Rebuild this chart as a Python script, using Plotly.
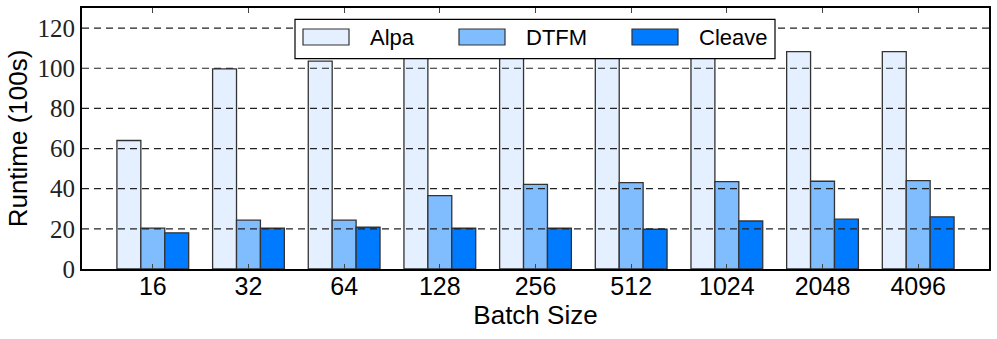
import plotly.graph_objects as go

# Batch sizes and runtimes (in units of 100 s)
batch_sizes = ["16", "32", "64", "128", "256", "512", "1024", "2048", "4096"]
alpa = [64, 99.7, 103.5, 106, 107, 107.5, 108, 108.3, 108.3]
dtfm = [20.4, 24.3, 24.3, 36.5, 42.2, 43, 43.5, 43.7, 44]
cleave = [18, 20.3, 20.8, 20.3, 20.3, 19.8, 23.9, 24.8, 26]
y_ticks = [0, 20, 40, 60, 80, 100, 120]

names = ["Alpa", "DTFM", "Cleave"]
colors = ["#E4F0FF", "#80BDFF", "#007AFF"]
values = [alpa, dtfm, cleave]

W, H = 997, 339
L, R, T, B = 82, 8, 8, 70
pw, ph = W - L - R, H - T - B


def px(x):
    return (x - L) / pw


def py(y):
    return 1 - (y - T) / ph


fig = go.Figure()
for name, vals, color in zip(names, values, colors):
    fig.add_trace(go.Bar(
        x=batch_sizes, y=vals, name=name,
        marker=dict(color=color, line=dict(color="#333333", width=1.3)),
        width=0.25, showlegend=False,
    ))

# dashed grid drawn over the bars, as in the matplotlib original
shapes = [dict(type="line", xref="paper", yref="y", x0=0, x1=1, y0=v, y1=v,
               line=dict(color="#222222", width=1.2, dash="7px,5px"), layer="above")
          for v in y_ticks[1:]]

# hand-drawn legend box
shapes.append(dict(type="rect", xref="paper", yref="paper",
                   x0=px(295), x1=px(775), y0=py(58.7), y1=py(19.3),
                   fillcolor="white", line=dict(color="black", width=1.2), layer="above"))
annotations = []
swatch_x = [303, 459, 632]
text_x = [368, 524, 697]
for name, color, sx, tx in zip(names, colors, swatch_x, text_x):
    shapes.append(dict(type="rect", xref="paper", yref="paper",
                       x0=px(sx), x1=px(sx + 46), y0=py(45), y1=py(29),
                       fillcolor=color, line=dict(color="#333333", width=1.2), layer="above"))
    annotations.append(dict(text=name, xref="paper", yref="paper", x=px(tx), y=py(37.5),
                            xanchor="left", yanchor="middle", showarrow=False,
                            font=dict(size=22, color="black")))

fig.update_layout(
    width=W, height=H,
    margin=dict(l=L, r=R, t=T, b=B),
    paper_bgcolor="white", plot_bgcolor="white",
    barmode="group", bargap=0.25, bargroupgap=0,
    font=dict(family="Liberation Sans, Arial, sans-serif", color="black"),
    shapes=shapes, annotations=annotations,
)

fig.update_xaxes(
    type="category", range=[-0.74, 8.74], automargin=False,
    showline=True, linecolor="black", linewidth=2, mirror="allticks",
    ticks="inside", ticklen=5, tickcolor="#444444", ticklabelstandoff=-6,
    tickfont=dict(size=25, family="Liberation Sans, Arial, sans-serif"),
    title=dict(text="Batch Size", font=dict(size=26), standoff=2),
    showgrid=False, layer="above traces",
)
fig.update_yaxes(
    range=[0, 130], tickvals=y_ticks, automargin=False,
    showline=True, linecolor="black", linewidth=2, mirror=True,
    ticks="", tickfont=dict(size=25, family="Liberation Serif, DejaVu Serif, serif", color="#222222"),
    title=dict(text="Runtime (100s)", font=dict(size=26), standoff=2),
    showgrid=False, zeroline=False, layer="above traces",
)

# drop the default page margin so the figure sits at the window's corner
fig.write_html("out.html", config={"displayModeBar": False},
               post_script="document.body.style.margin='0';document.body.style.overflow='hidden';")
